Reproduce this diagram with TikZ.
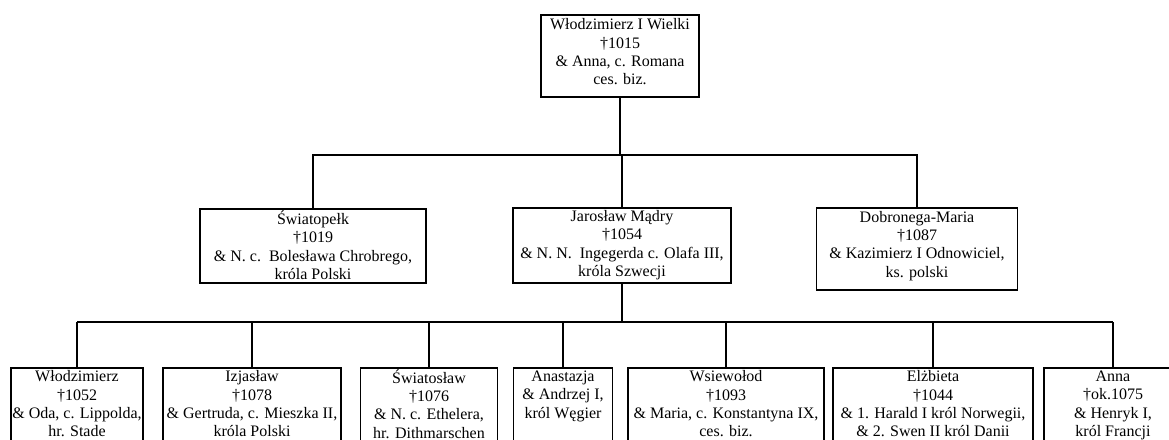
\documentclass[tikz,border=0pt]{standalone}
\usepackage{fontspec}
\setmainfont{Liberation Serif}

\begin{document}
\begin{tikzpicture}[x=1pt,y=-1pt,
  person/.style 2 args={draw,line width=1.5pt,align=center,inner sep=0pt,anchor=north,
    font=\fontsize{16}{18.3}\selectfont,
    execute at begin node={\rule{0pt}{#1}},
    execute at end node={\rule[-#2]{0pt}{#2}}},
  kid/.style={person={17pt}{6pt},minimum height=78},
  link/.style={line width=1.5pt}]
\useasboundingbox (0,0) rectangle (1169,439);
\clip (0,0) rectangle (1169,439);
% founder
\node[person={19pt}{8pt},minimum width=158,minimum height=82] (wlodzimierzI) at (620,14)
  {Włodzimierz I Wielki\\ †1015\\ \& Anna, c. Romana\\ ces. biz.};
% children
\node[person={18pt}{1pt},minimum width=226,minimum height=74] (swiatopelk) at (313,208)
  {Światopełk\\ †1019\\ \& N. c.\ \ Bolesława Chrobrego,\\ króla Polski};
\node[person={17.5pt}{2.5pt},minimum width=218,minimum height=75] (jaroslaw) at (622,207)
  {Jarosław Mądry\\ †1054\\ \& N. N.\ \ Ingegerda c. Olafa III,\\ króla Szwecji};
\node[person={18pt}{9pt},minimum width=201,minimum height=82] (dobronega) at (917,207)
  {Dobronega-Maria\\ †1087\\ \& Kazimierz I Odnowiciel,\\ ks. polski};
% grandchildren
\node[kid,minimum width=132] (wlodzimierz) at (77,367)
  {Włodzimierz\\ †1052\\ \& Oda, c. Lippolda,\\ hr. Stade};
\node[kid,minimum width=178] (izjaslaw) at (252,367)
  {Izjasław\\ †1078\\ \& Gertruda, c. Mieszka II,\\ króla Polski};
\node[kid,minimum width=137] (swiatoslaw) at (429,367)
  {Światosław\\ †1076\\ \& N. c. Ethelera,\\ hr. Dithmarschen};
\node[kid,minimum width=99] (anastazja) at (563,367)
  {Anastazja\\ \& Andrzej I,\\ król Węgier\\ \mbox{}};
\node[kid,minimum width=196] (wsiewolod) at (726,367)
  {Wsiewołod\\ †1093\\ \& Maria, c. Konstantyna IX,\\ ces. biz.};
\node[kid,minimum width=200] (elzbieta) at (933,367)
  {Elżbieta\\ †1044\\ \& 1. Harald I król Norwegii,\\ \& 2. Swen II król Danii};
\node[kid,minimum width=138] (anna) at (1113,367)
  {Anna\\ †ok.1075\\ \& Henryk I,\\ król Francji};
% connectors
\coordinate (bus1) at (620,155);
\coordinate (bus2) at (622,322);
\draw[link] (wlodzimierzI.south) -- (bus1);
\draw[link] (swiatopelk.north) |- (dobronega.north |- bus1) -- (dobronega.north);
\draw[link] (jaroslaw.north) -- (jaroslaw.north |- bus1);
\draw[link] (jaroslaw.south) -- (bus2);
\draw[link] (wlodzimierz.north |- bus2) -- (anna.north |- bus2);
\foreach \kid in {wlodzimierz,izjaslaw,swiatoslaw,anastazja,wsiewolod,elzbieta,anna}
  \draw[link] (\kid.north) -- (\kid.north |- bus2);
\end{tikzpicture}
\end{document}
